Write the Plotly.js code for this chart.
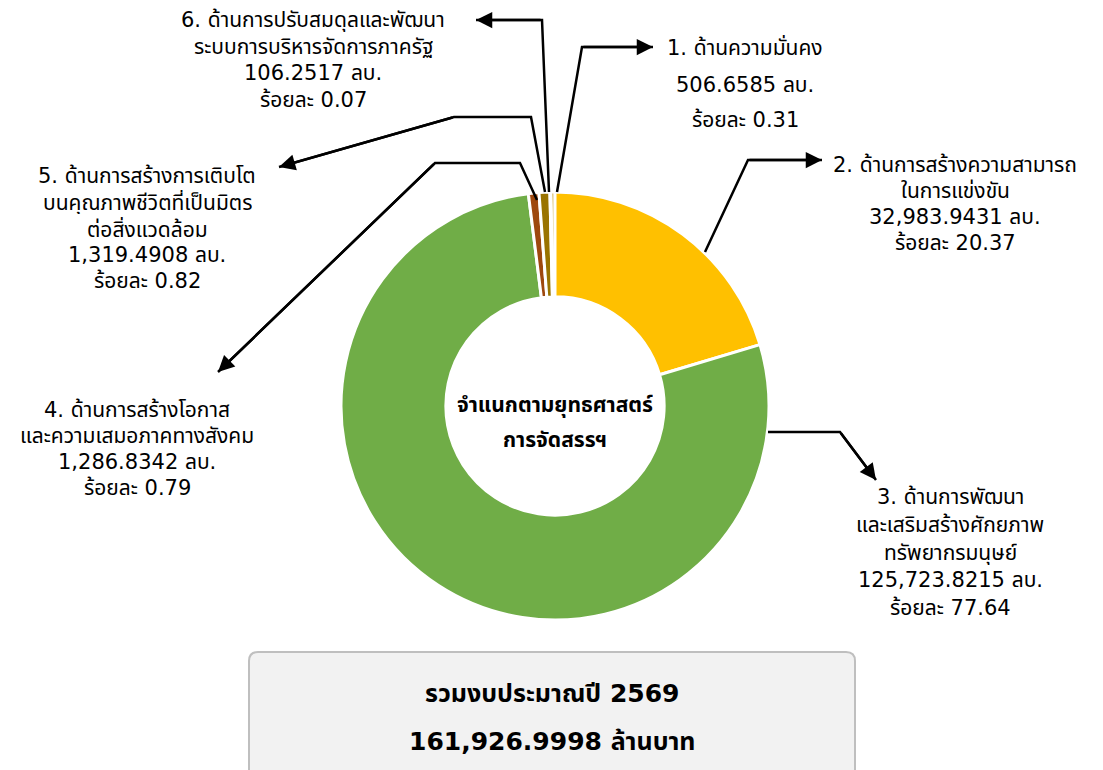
<!DOCTYPE html>
<html>
<head>
<meta charset="utf-8">
<script src="https://cdn.plot.ly/plotly-3.0.1.min.js"></script>
<style>html,body{margin:0;padding:0;background:#fff;}#chart{width:1103px;height:770px;}</style>
</head>
<body>
<div id="chart"></div>
<script>
// ---------- data ----------
const categories = [
  '1. ด้านความมั่นคง',
  '2. ด้านการสร้างความสามารถในการแข่งขัน',
  '3. ด้านการพัฒนาและเสริมสร้างศักยภาพทรัพยากรมนุษย์',
  '4. ด้านการสร้างโอกาสและความเสมอภาคทางสังคม',
  '5. ด้านการสร้างการเติบโตบนคุณภาพชีวิตที่เป็นมิตรต่อสิ่งแวดล้อม',
  '6. ด้านการปรับสมดุลและพัฒนาระบบการบริหารจัดการภาครัฐ'
];
const labelLines = [
  ['1. ด้านความมั่นคง'],
  ['2. ด้านการสร้างความสามารถ', 'ในการแข่งขัน'],
  ['3. ด้านการพัฒนา', 'และเสริมสร้างศักยภาพ', 'ทรัพยากรมนุษย์'],
  ['4. ด้านการสร้างโอกาส', 'และความเสมอภาคทางสังคม'],
  ['5. ด้านการสร้างการเติบโต', 'บนคุณภาพชีวิตที่เป็นมิตร', 'ต่อสิ่งแวดล้อม'],
  ['6. ด้านการปรับสมดุลและพัฒนา', 'ระบบการบริหารจัดการภาครัฐ']
];
const values = [506.6585, 32983.9431, 125723.8215, 1286.8342, 1319.4908, 106.2517];
const percents = [0.31, 20.37, 77.64, 0.79, 0.82, 0.07];
const totalText = '161,926.9998';
const yearText = '2569';
const centerLines = ['จำแนกตามยุทธศาสตร์', 'การจัดสรรฯ'];
const colors = ['#BF9000', '#FFC000', '#70AD47', '#9E480E', '#997300', '#7F7F7F'];

// ---------- layout helpers ----------
const W = 1103, H = 770;
const X = x => x / W;
const Y = y => 1 - y / H;
const FONT = "'DejaVu Sans', Tahoma, 'Noto Sans Thai', 'Noto Sans', sans-serif";

const total = values.reduce((a, b) => a + b, 0);
const fmt = v => v.toLocaleString('en-US', {minimumFractionDigits: 4, maximumFractionDigits: 4});

// label block positions (pixels): center x, line y's
const labelPos = [
  {cx: 745, ys: [47, 85, 120]},
  {cx: 955, y0: 165, dy: 26},
  {cx: 950, y0: 497, dy: 27.8},
  {cx: 137, y0: 410, dy: 26},
  {cx: 147, y0: 176, dy: 26.3},
  {cx: 313, y0: 20, dy: 26.7}
];
// leader polylines (pixels), last point = arrow tip
const leaders = [
  [[557,192],[582,47],[653,47]],
  [[705,252],[748,160],[822,160]],
  [[768,432],[840,432],[876,480]],
  [[537,200],[520,163],[435,163],[218,372]],
  [[545,192],[531,117],[454,117],[279,167]],
  [[549,192],[542,20],[476,20]]
];

const annotations = [];
const shapes = [];

// bottom box
(function(){
  const x0=249,y0=652,x1=855,y1=778,r=9;
  const p = `M ${X(x0+r)} ${Y(y0)} L ${X(x1-r)} ${Y(y0)} Q ${X(x1)} ${Y(y0)} ${X(x1)} ${Y(y0+r)} L ${X(x1)} ${Y(y1-r)} Q ${X(x1)} ${Y(y1)} ${X(x1-r)} ${Y(y1)} L ${X(x0+r)} ${Y(y1)} Q ${X(x0)} ${Y(y1)} ${X(x0)} ${Y(y1-r)} L ${X(x0)} ${Y(y0+r)} Q ${X(x0)} ${Y(y0)} ${X(x0+r)} ${Y(y0)} Z`;
  shapes.push({type:'path', xref:'paper', yref:'paper', path:p, fillcolor:'#F2F2F2', line:{color:'#BFBFBF', width:2}, layer:'below'});
})();

labelLines.forEach((lines, i) => {
  const all = lines.concat([fmt(values[i]) + ' ลบ.', 'ร้อยละ ' + percents[i].toFixed(2)]);
  const pos = labelPos[i];
  all.forEach((t, k) => {
    const y = pos.ys ? pos.ys[k] : pos.y0 + k * pos.dy;
    annotations.push({xref:'paper', yref:'paper', x:X(pos.cx), y:Y(y), text:t, showarrow:false,
      xanchor:'center', yanchor:'middle', height:24, borderpad:0,
      font:{family:FONT, size:21, color:'#000'}});
  });
});

leaders.forEach(pts => {
  const d = pts.map((p, k) => (k ? 'L ' : 'M ') + X(p[0]) + ' ' + Y(p[1])).join(' ');
  shapes.push({type:'path', xref:'paper', yref:'paper', path:d, line:{color:'#000', width:2.5}});
  const tip = pts[pts.length-1], prev = pts[pts.length-2];
  annotations.push({xref:'paper', yref:'paper', x:X(tip[0]), y:Y(tip[1]), text:'', showarrow:true,
    ax: prev[0]-tip[0], ay: prev[1]-tip[1], arrowhead:2, arrowsize:1.3, arrowwidth:2.5, arrowcolor:'#000'});
});

// center text
[405, 440].forEach((y, k) => {
  annotations.push({xref:'paper', yref:'paper', x:X(555), y:Y(y), text:'<b>'+centerLines[k]+'</b>', showarrow:false,
    xanchor:'center', yanchor:'middle', height:30, borderpad:0, font:{family:FONT, size:21, color:'#000'}});
});
// box text
annotations.push({xref:'paper', yref:'paper', x:X(552), y:Y(693), text:'<b>รวมงบประมาณปี ' + yearText + '</b>', showarrow:false,
  xanchor:'center', yanchor:'middle', height:40, borderpad:0, font:{family:FONT, size:25, color:'#000'}});
annotations.push({xref:'paper', yref:'paper', x:X(552), y:Y(741), text:'<b>' + totalText + ' ล้านบาท</b>', showarrow:false,
  xanchor:'center', yanchor:'middle', height:40, borderpad:0, font:{family:FONT, size:25, color:'#000'}});

const trace = {
  type:'pie',
  labels:categories,
  values:values,
  sort:false,
  direction:'clockwise',
  rotation: -values[0] / total * 360,
  hole:0.51,
  textinfo:'none',
  hoverinfo:'none',
  marker:{colors:colors, line:{color:'#FFFFFF', width:3}},
  domain:{x:[X(341), X(769)], y:[Y(620), Y(192)]}
};

const layout = {
  width:W, height:H,
  margin:{l:0, r:0, t:0, b:0},
  paper_bgcolor:'#FFFFFF',
  showlegend:false,
  annotations:annotations,
  shapes:shapes
};

Plotly.newPlot('chart', [trace], layout, {displayModeBar:false, staticPlot:true});
</script>
</body>
</html>
